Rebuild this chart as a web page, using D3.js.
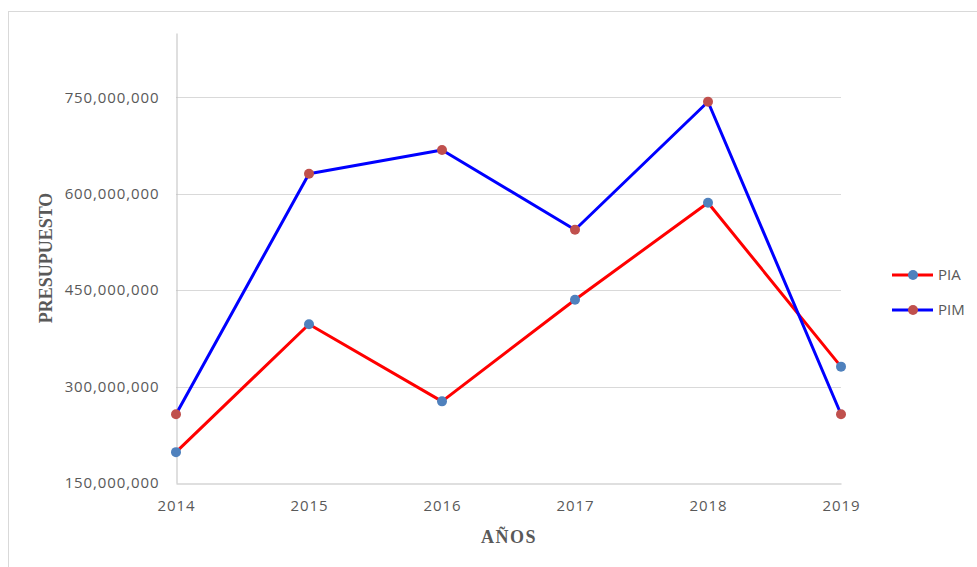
<!DOCTYPE html>
<html>
<head>
<meta charset="utf-8">
<script src="https://cdn.jsdelivr.net/npm/d3@7"></script>
<style>
  html, body { margin: 0; padding: 0; background: #fff; }
  svg { display: block; }
</style>
</head>
<body>
<svg id="chart" width="977" height="567"></svg>
<script>
const years = ["2014", "2015", "2016", "2017", "2018", "2019"];
const piaValues = [198000000, 397000000, 277000000, 435000000, 586000000, 331000000];
const pimValues = [257000000, 631000000, 668000000, 544000000, 743000000, 257000000];
const yTicks = [150000000, 300000000, 450000000, 600000000, 750000000];
const seriesNames = ["PIA", "PIM"];

(function () {
const svg = d3.select("#chart");
const W = 977, H = 567;

// outer chart border
svg.append("rect")
  .attr("x", 8.5).attr("y", 11.5)
  .attr("width", W + 10).attr("height", H + 10)
  .attr("fill", "none").attr("stroke", "#d9d9d9").attr("stroke-width", 1);

const pLeft = 176, pRight = 841, pTop = 33, pBottom = 483;

const x = d3.scalePoint().domain(years).range([pLeft, pRight]);
const y = d3.scaleLinear().domain([150000000, 850000000]).range([pBottom, pTop]);

const fmt = d3.format(",");

// gridlines
svg.append("g").selectAll("line")
  .data(yTicks.filter(t => t !== 150000000))
  .join("line")
  .attr("x1", pLeft).attr("x2", pRight)
  .attr("y1", d => Math.round(y(d)) + 0.5).attr("y2", d => Math.round(y(d)) + 0.5)
  .attr("stroke", "#d9d9d9").attr("stroke-width", 1);

// y axis
const yAxis = svg.append("g")
  .attr("transform", `translate(${pLeft + 0.5},0)`)
  .call(d3.axisLeft(y).tickValues(yTicks).tickFormat(fmt).tickSize(0).tickPadding(17));
yAxis.select(".domain").attr("stroke", "#bfbfbf");
yAxis.selectAll("text")
  .attr("fill", "#595959")
  .style("font-family", "'Open Sans', sans-serif")
  .style("font-size", "15px")
  .style("letter-spacing", "0.9px");

// x axis
const xAxis = svg.append("g")
  .attr("transform", `translate(0,${pBottom + 0.5})`)
  .call(d3.axisBottom(x).tickSize(0).tickPadding(17));
xAxis.select(".domain").attr("stroke", "#bfbfbf");
xAxis.selectAll("text")
  .attr("fill", "#595959")
  .style("font-family", "'Open Sans', sans-serif")
  .style("font-size", "15px")
  .style("letter-spacing", "0.9px");

// axis titles
svg.append("text")
  .attr("x", 509).attr("y", 543)
  .attr("text-anchor", "middle")
  .attr("fill", "#595959")
  .style("font-family", "'Liberation Serif', 'Times New Roman', serif")
  .style("font-weight", "bold")
  .style("font-size", "18px")
  .style("letter-spacing", "1.5px")
  .text("AÑOS");

svg.append("text")
  .attr("transform", "translate(52,258) rotate(-90)")
  .attr("text-anchor", "middle")
  .attr("fill", "#595959")
  .style("font-family", "'Liberation Serif', 'Times New Roman', serif")
  .style("font-weight", "bold")
  .style("font-size", "18px")
  .text("PRESUPUESTO");

const series = [
  { name: seriesNames[0], values: piaValues, line: "#ff0000", marker: "#4f81bd" },
  { name: seriesNames[1], values: pimValues, line: "#0000ff", marker: "#c0504d" }
];

const lineGen = d3.line().x((d, i) => x(years[i])).y(d => y(d));

series.forEach(s => {
  svg.append("path")
    .datum(s.values)
    .attr("d", lineGen)
    .attr("fill", "none")
    .attr("stroke", s.line)
    .attr("stroke-width", 3)
    .attr("stroke-linejoin", "round");
});
series.forEach(s => {
  svg.append("g").selectAll("circle")
    .data(s.values)
    .join("circle")
    .attr("cx", (d, i) => x(years[i]))
    .attr("cy", d => y(d))
    .attr("r", 5)
    .attr("fill", s.marker);
});

// legend
const legend = svg.append("g");
series.forEach((s, i) => {
  const ly = 275 + i * 35;
  legend.append("line")
    .attr("x1", 892).attr("x2", 933).attr("y1", ly).attr("y2", ly)
    .attr("stroke", s.line).attr("stroke-width", 3);
  legend.append("circle")
    .attr("cx", 913).attr("cy", ly).attr("r", 5).attr("fill", s.marker);
  legend.append("text")
    .attr("x", 938).attr("y", ly).attr("dy", "0.35em")
    .attr("fill", "#595959")
    .style("font-family", "'Open Sans', sans-serif")
    .style("font-size", "15px")
    .text(s.name);
});
})();
</script>
</body>
</html>
